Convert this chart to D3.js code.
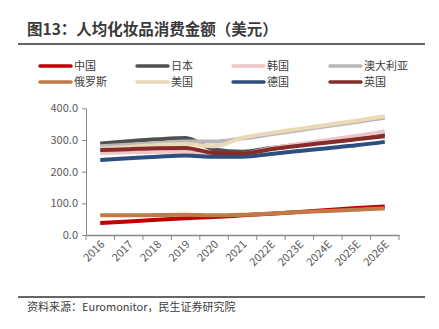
<!DOCTYPE html>
<html><head><meta charset="utf-8">
<script src="https://cdn.jsdelivr.net/npm/d3@7"></script>
<style>body{margin:0;background:#fff}svg{display:block}</style>
</head><body><div id="c"></div>
<script>
const categories = ["2016","2017","2018","2019","2020","2021","2022E","2023E","2024E","2025E","2026E"];
const seriesNames = ["中国","日本","韩国","澳大利亚","俄罗斯","美国","德国","英国"];
const china     = [38, 43, 48, 53, 57, 62, 67, 73, 79, 85, 90];
const japan     = [289, 296, 302, 306, 270, 263, 275, 286, 297, 308, 319];
const korea     = [259, 261, 263, 263, 255, 257, 274, 287, 300, 313, 327];
const australia = [280, 285, 290, 295, 295, 305, 318, 331, 344, 357, 370];
const russia    = [62, 62, 63, 64, 62, 64, 68, 72, 76, 80, 84];
const usa       = [272, 278, 284, 287, 280, 307, 322, 335, 348, 361, 375];
const germany   = [237, 242, 247, 251, 247, 247, 256, 265, 274, 283, 294];
const uk        = [268, 271, 274, 275, 259, 258, 271, 282, 292, 302, 312];
const yTicks = [0, 100, 200, 300, 400];
const colors = ["#C00000","#505050","#EEC5C5","#B7B7B7","#C17A45","#EAD8B7","#2C4F7F","#862A2A"];
const allSeries = [china, japan, korea, australia, russia, usa, germany, uk];

const W = 439, H = 329;
const svg = d3.select("#c").append("svg").attr("width", W).attr("height", H);
const font = "'Noto Sans CJK SC','Noto Sans',sans-serif";

svg.append("text").attr("x", 27).attr("y", 35).text("图13：人均化妆品消费金额（美元）")
  .attr("font-family", font).attr("font-size", 15.5).attr("font-weight", "bold").attr("fill", "#3a3a3a");
svg.append("line").attr("x1", 18).attr("x2", 425).attr("y1", 44).attr("y2", 44)
  .attr("stroke", "#666").attr("stroke-width", 2);

// legend
const legX = [38, 135, 231, 328], legY = [66, 82];
seriesNames.forEach((n, i) => {
  const x = legX[i % 4], y = legY[Math.floor(i / 4)];
  svg.append("line").attr("x1", x + 2).attr("x2", x + 33).attr("y1", y).attr("y2", y)
    .attr("stroke", colors[i]).attr("stroke-width", 3.5).attr("stroke-linecap", "round");
  svg.append("text").attr("x", x + 36).attr("y", y + 4).text(n)
    .attr("font-family", font).attr("font-size", 11).attr("fill", "#404040");
});

const x = d3.scaleBand().domain(categories).range([86, 399]);
const y = d3.scaleLinear().domain([0, 400]).range([235, 108.3]);

const yAxis = svg.append("g").attr("transform", "translate(86,0)")
  .call(d3.axisLeft(y).tickValues(yTicks).tickFormat(d3.format(".1f")).tickSize(4).tickSizeOuter(0));
yAxis.select(".domain").attr("stroke", "#888");
yAxis.selectAll(".tick line").attr("stroke", "#888");
yAxis.selectAll("text").attr("font-family", font).attr("font-size", 11).attr("fill", "#595959").attr("x", -8);

const xAxis = svg.append("g").attr("transform", "translate(0,235)")
  .call(d3.axisBottom(x).tickSize(0).tickSizeOuter(0));
xAxis.select(".domain").attr("stroke", "#888").attr("stroke-width", 1.5);
xAxis.selectAll(".tick text").attr("font-family", font).attr("font-size", 11).attr("fill", "#595959")
  .attr("text-anchor", "end").attr("dy", 0).attr("y", 0)
  .attr("transform", "translate(5,10) rotate(-45)");
const bounds = categories.map(c => x(c)).concat([x.range()[1]]);
xAxis.selectAll(".bt").data(bounds).enter().append("line")
  .attr("x1", d => d).attr("x2", d => d).attr("y1", 0).attr("y2", 5).attr("stroke", "#888");

const line = d3.line().x((d, i) => x(categories[i]) + x.bandwidth() / 2).y(d => y(d)).curve(d3.curveMonotoneX);
allSeries.forEach((s, i) => {
  svg.append("path").attr("d", line(s)).attr("fill", "none")
    .attr("stroke", colors[i]).attr("stroke-width", 4).attr("stroke-linecap", "butt").attr("stroke-linejoin", "round");
});

svg.append("line").attr("x1", 18).attr("x2", 425).attr("y1", 297).attr("y2", 297)
  .attr("stroke", "#666").attr("stroke-width", 2);
svg.append("text").attr("x", 27).attr("y", 311).text("资料来源：Euromonitor，民生证券研究院")
  .attr("font-family", font).attr("font-size", 11).attr("fill", "#404040");
</script></body></html>
